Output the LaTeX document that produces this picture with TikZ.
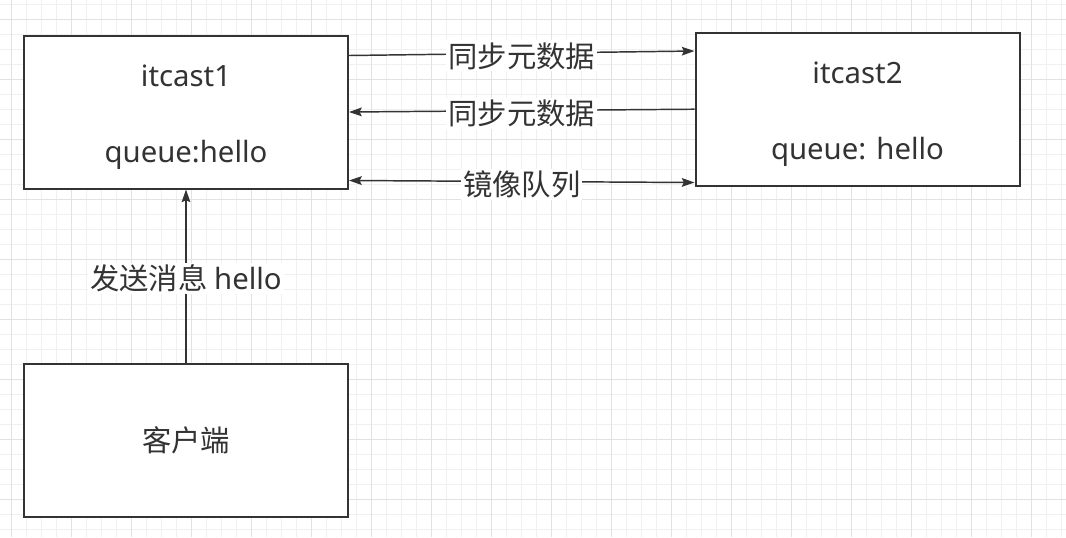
\documentclass[tikz,border=0pt]{standalone}
\usepackage{fontspec}
\setmainfont{Noto Sans}
\newfontfamily\cjk{Noto Sans CJK SC}
\usetikzlibrary{positioning}
\usetikzlibrary{arrows.meta}
\definecolor{ink}{HTML}{333333}
\definecolor{gridminor}{HTML}{F0F0F0}
\definecolor{gridmajor}{HTML}{E2E2E2}

\begin{document}
\begin{tikzpicture}[x=0.75pt,y=-0.75pt,
  >={Stealth[length=9.5pt,width=6.5pt,inset=1.5pt]},
  box/.style={draw=ink,line width=1.5pt,fill=white,minimum width=243pt,minimum height=114.75pt,inner sep=0pt,align=center,text=ink,font=\fontsize{22}{28.5}\selectfont},
  link/.style={draw=ink,line width=1.1pt,->},
  tag/.style={fill=white,text=ink,inner sep=1.5pt,yshift=-2pt,font=\fontsize{22}{26}\selectfont\cjk}]
  \useasboundingbox (0,0) rectangle (1066,537);
  \fill[white] (0,0) rectangle (1066,537);

  % background grid
  \foreach \gx in {0,...,70}
    \draw[gridminor,line width=0.75pt] (11.7+15*\gx,0) -- (11.7+15*\gx,537);
  \foreach \gy in {0,...,35}
    \draw[gridminor,line width=0.75pt] (0,4.3+15*\gy) -- (1066,4.3+15*\gy);
  \foreach \gx in {0,...,17}
    \draw[gridmajor,line width=0.75pt] (11.7+60*\gx,0) -- (11.7+60*\gx,537);
  \foreach \gy in {0,...,8}
    \draw[gridmajor,line width=0.75pt] (0,19.3+60*\gy) -- (1066,19.3+60*\gy);

  \node [box] (itcast1) at (186,112)    {\rule{0pt}{24pt}itcast1\\[28.5pt]queue:hello};
  \node [box] (itcast2) at (857.5,109.2) {\rule{0pt}{24pt}itcast2\\[28.5pt]queue: hello};
  \node [box] (client)  at (186,440)    {\cjk 客户端};

  \draw [link] ([shift={(0,-56.5)}]itcast1.east) -- ([shift={(0,-58.2)}]itcast2.west) node[midway,tag] {同步元数据};
  \draw [link] (itcast2.west) -- (itcast1.east) node[midway,tag] {同步元数据};
  \draw [link,<->] ([shift={(0,68.5)}]itcast1.east) -- ([shift={(0,73.3)}]itcast2.west) node[midway,tag] {镜像队列};
  \draw [link] (client) -- (itcast1) node[midway,tag] {发送消息 \rmfamily hello};
\end{tikzpicture}
\end{document}
